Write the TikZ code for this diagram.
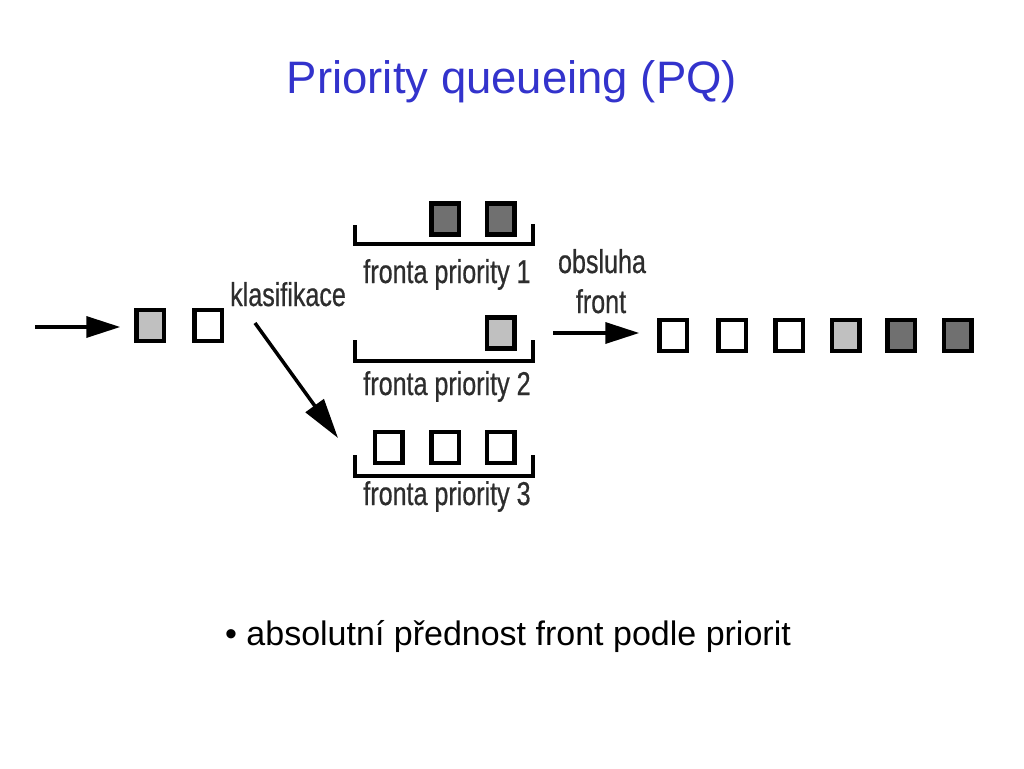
\documentclass[tikz,border=0pt]{standalone}
\usepackage{fontspec}
\setmainfont{Liberation Sans}
\newfontfamily\cond[FakeStretch=0.76,FakeBold=0.6]{Liberation Sans}
\usetikzlibrary{arrows.meta}
\definecolor{titleblue}{RGB}{51,51,204}
\definecolor{labgray}{RGB}{45,45,45}
\definecolor{lightfill}{RGB}{192,192,192}
\definecolor{darkfill}{RGB}{112,112,112}
\tikzset{
  pkt/.style={draw=black, line width=4.5pt, rectangle, minimum width=27.5pt, minimum height=31pt, inner sep=0pt, outer sep=0pt, fill=white},
  pktlight/.style={pkt, fill=lightfill},
  pktdark/.style={pkt, fill=darkfill},
  bracketline/.style={draw=black, line width=3.5pt},
  lab/.style={font=\cond\fontsize{33}{36}\selectfont, text=labgray, inner sep=0pt},
  arr/.style={draw=black, line width=3.5pt, -{Triangle[length=34pt,width=21pt]}},
}
\begin{document}
\begin{tikzpicture}[x=1pt,y=-1pt]
\useasboundingbox (0,0) rectangle (1024,768);
% title
\node[anchor=base, font=\fontsize{45.5}{52}\selectfont, text=titleblue, inner sep=0pt] (title) at (512,93) {Priority queueing (PQ)};
% input packets
\node[pktlight] (in1) at (150,325.5) {};
\node[pkt] (in2) at (208,325.5) {};
\coordinate (inStart) at (35,327);
\draw[arr, shorten >=16pt] (inStart) -- (in1.west |- inStart);
% classifier
\node[lab, anchor=base west] (klas) at (230,306) {klasifikace};
\coordinate (dStart) at (255,323);
\coordinate (dEnd) at (338,438);
\draw[arr, -{Triangle[length=40pt,width=22pt]}] (dStart) -- (dEnd);
% queue 1
\node[pktdark] (q1a) at (445,219) {};
\node[pktdark] (q1b) at (500.5,219) {};
\draw[bracketline] (355,225) -- (355,244) -- (533,244) -- (533,224);
\node[lab, anchor=base] (l1) at (447,283) {fronta priority 1};
% queue 2
\node[pktlight] (q2a) at (500.5,333) {};
\draw[bracketline] (355,340) -- (355,361) -- (533,361) -- (533,340);
\node[lab, anchor=base] (l2) at (447,395) {fronta priority 2};
% queue 3
\node[pkt] (q3a) at (388.5,447.5) {};
\node[pkt] (q3b) at (445,447.5) {};
\node[pkt] (q3c) at (500.5,447.5) {};
\draw[bracketline] (355,455) -- (355,476) -- (533,476) -- (533,455);
\node[lab, anchor=base] (l3) at (447,505) {fronta priority 3};
% scheduler
\node[lab, anchor=base] (obs) at (602,273) {obsluha};
\node[lab, anchor=base] (fr) at (601,313) {front};
% output packets
\node[pkt] (o1) at (673,335.5) {};
\node[pkt] (o2) at (732,335.5) {};
\node[pkt] (o3) at (789,335.5) {};
\node[pktlight] (o4) at (845.5,335.5) {};
\node[pktdark] (o5) at (901,335.5) {};
\node[pktdark] (o6) at (957.5,335.5) {};
\coordinate (oStart) at (553,333);
\draw[arr, shorten >=20pt] (oStart) -- (o1.west |- oStart);
% bullet text
\node[anchor=base, font=\fontsize{34}{40}\selectfont, inner sep=0pt] (bul) at (508,645) {• absolutní přednost front podle priorit};
\end{tikzpicture}
\end{document}
